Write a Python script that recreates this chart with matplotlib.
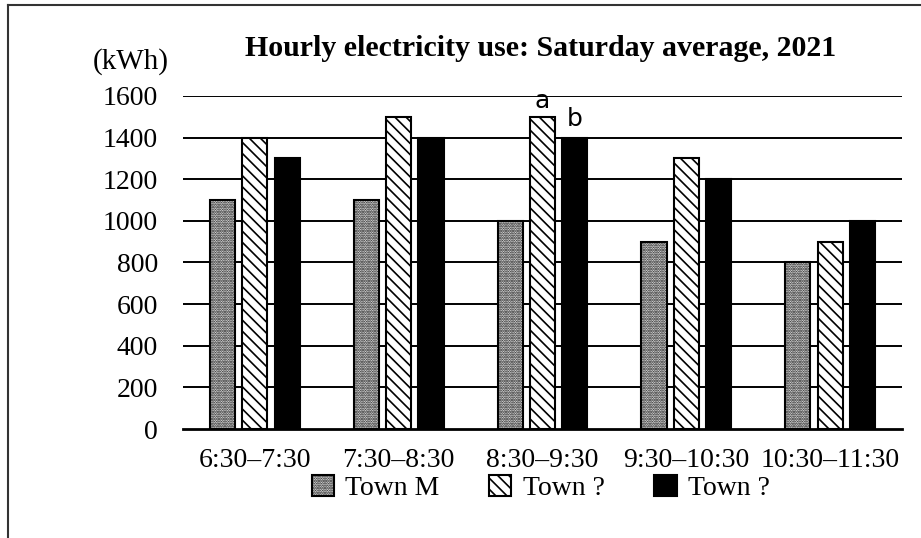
import numpy as np
import matplotlib.pyplot as plt
from matplotlib.lines import Line2D

plt.rcParams['font.family'] = ['Liberation Serif', 'DejaVu Serif']
plt.rcParams['hatch.linewidth'] = 1.2

time_slots = ['6:30–7:30', '7:30–8:30', '8:30–9:30', '9:30–10:30', '10:30–11:30']
town_m = [1100, 1100, 1000, 900, 800]
town_a = [1400, 1500, 1500, 1300, 900]
town_b = [1300, 1400, 1400, 1200, 1000]
series_names = ['Town M', 'Town ?', 'Town ?']
y_ticks = [0, 200, 400, 600, 800, 1000, 1200, 1400, 1600]

fig = plt.figure(figsize=(9.21, 5.38), dpi=100)
ax = fig.add_axes([0.1987, 0.2026, 0.7807, 0.619])

x = np.arange(len(time_slots))
w = 0.175
off = 0.225
b1 = ax.bar(x - off, town_m, w, facecolor='white', edgecolor='black', hatch='.......', linewidth=1.5, zorder=3)
b2 = ax.bar(x, town_a, w, facecolor='white', edgecolor='black', hatch='\\\\\\', linewidth=1.5, zorder=3)
b3 = ax.bar(x + off, town_b, w, facecolor='black', edgecolor='black', linewidth=1.5, zorder=3)

ax.set_xlim(-0.5, 4.5)
ax.set_ylim(0, 1600)
for t in y_ticks[1:]:
    ax.axhline(t, color='black', lw=1.4, zorder=1)
for s in ['top', 'right', 'left']:
    ax.spines[s].set_visible(False)
ax.spines['bottom'].set_linewidth(2)

ax.set_yticks(y_ticks)
ax.set_yticklabels([str(v) for v in y_ticks], fontsize=20)
ax.set_xticks(x)
ax.set_xticklabels(time_slots, fontsize=20)
ax.tick_params(axis='both', length=0)
ax.tick_params(axis='y', pad=18)
ax.tick_params(axis='x', pad=14)

# point labels on 8:30-9:30 group
ax.text(x[2], town_a[2] + 20, 'a', ha='center', va='bottom', fontsize=18,
        family='DejaVu Sans', zorder=5)
ax.text(x[2] + off, town_b[2] + 30, 'b', ha='center', va='bottom', fontsize=18,
        family='DejaVu Sans', zorder=5)

fig.text(0.142, 0.885, '(kWh)', ha='center', va='center', fontsize=21)
fig.text(0.587, 0.91, 'Hourly electricity use: Saturday average, 2021',
         ha='center', va='center', fontsize=21.5, fontweight='bold')

fig.legend([b1, b2, b3], series_names, loc='center', bbox_to_anchor=(0.587, 0.093),
           ncol=3, frameon=False, fontsize=20, handlelength=0.8, handleheight=0.8,
           columnspacing=1.8, handletextpad=0.4)

# outer frame (left and top edges)
fig.add_artist(Line2D([0.009, 0.009], [0.0, 0.99], color='#333333', lw=1.5))
fig.add_artist(Line2D([0.009, 1.0], [0.99, 0.99], color='#333333', lw=1.5))

fig.savefig('out.png', dpi=100)
